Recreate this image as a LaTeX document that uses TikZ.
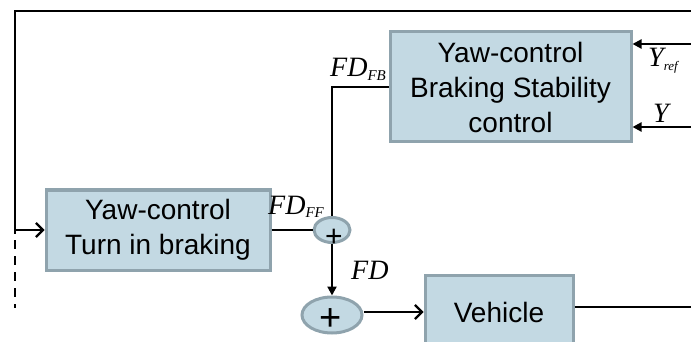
\documentclass[tikz,border=0pt]{standalone}
\usepackage{fontspec}
\setmainfont{Liberation Serif}
\setsansfont{Liberation Sans}
\usetikzlibrary{arrows.meta,shapes.geometric}
\definecolor{boxfill}{HTML}{C3D9E3}
\definecolor{boxborder}{HTML}{8FA3AD}
\newcommand{\lsub}[2][15]{\raisebox{-4pt}{\fontsize{#1}{#1}\selectfont #2}}
\begin{document}
\begin{tikzpicture}[x=1pt,y=-1pt,
  blk/.style={draw=boxborder,fill=boxfill,line width=3pt,inner sep=0pt,align=center,
    font=\sffamily\fontsize{28}{35}\selectfont},
  sumnode/.style={ellipse,draw=boxborder,fill=boxfill,line width=3pt,inner sep=0pt},
  wire/.style={line width=2.2pt},
  openarr/.style={wire,-{Straight Barb[length=7pt,width=14pt,line width=2.2pt]}},
  fillarr/.style={wire,-{Triangle[length=9pt,width=9pt]}},
  lab/.style={font=\itshape\fontsize{28}{28}\selectfont,inner sep=0pt,anchor=base west},
  plus/.style={font=\sffamily\fontsize{30}{30}\selectfont,inner sep=0pt}]
\useasboundingbox (0,0) rectangle (691,342);
\clip (0,0) rectangle (691,342);

% blocks
\node[blk,minimum width=224pt,minimum height=80pt] (b1) at (158,230) {Yaw-control\\Turn in braking};
\node[blk,minimum width=241pt,minimum height=110pt] (b2) at (510.5,87) {Yaw-control\\Braking Stability\\control};
\node[blk,minimum width=148pt,minimum height=74pt] (veh) at (499,312) {Vehicle};

% summing junctions
\node[sumnode,minimum width=36pt,minimum height=25pt] (s1) at (332,230) {};
\node[plus] (p1) at (334,238) {+};
\node[sumnode,minimum width=60pt,minimum height=36pt] (s2) at (332,315) {};
\node[plus,font=\sffamily\fontsize{38}{38}\selectfont] (p2) at (331,320) {+};

% coordinates
\coordinate (tr) at (700,11);
\coordinate (tl) at (15,11);
\coordinate (lj) at (15,230);
\coordinate (ls) at (15,234);
\coordinate (ds) at (15,240);
\coordinate (de) at (15,308);
\coordinate (yr) at (700,44);
\coordinate (yy) at (700,127);
\coordinate (vr) at (700,307);

% feedback loop
\draw[wire] (tr) -- (tl) -- (ls);
\draw[wire,dash pattern=on 9pt off 7pt] (ds) -- (de);
\draw[openarr] (lj) -- (b1.west);

% signal paths
\draw[wire] (b1.east) -- (s1.west);
\draw[wire] (b2.west) -| (s1.north);
\draw[fillarr] (s1.south) -- (s2.north);
\draw[openarr] (s2.east|-veh.west) -- (veh.west);
\draw[wire] (veh.east|-vr) -- (vr);
\draw[fillarr] (yr) -- (b2.east|-yr);
\draw[fillarr] (yy) -- (b2.east|-yy);

% labels
\node[lab] (lfb) at (330,77) {FD\lsub{FB}};
\node[lab] (lff) at (268,214) {FD\lsub{FF}};
\node[lab] (lfd) at (351,279) {FD};
\node[lab] (lyr) at (648,67) {Y\lsub[13]{ref}};
\node[lab] (ly) at (653,123) {Y};
\end{tikzpicture}
\end{document}
